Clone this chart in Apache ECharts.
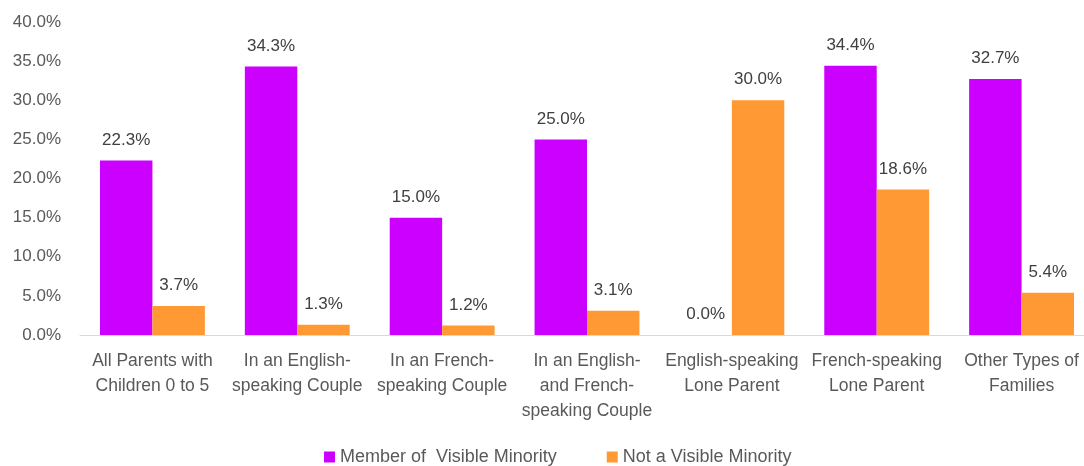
<!DOCTYPE html>
<html>
  <head>
    <meta charset="utf-8">
    <title>ECharts</title>
    <script src="https://cdn.jsdelivr.net/npm/echarts@6/dist/echarts.min.js"></script>
  </head>
  <body style="margin:0;overflow:hidden;">
    <!-- plot area runs a little past the right edge, as in the original picture -->
    <div id="main" style="width:1094px;height:466px;"></div>
    <script type="text/javascript">
      var categories = [
        'All Parents with\nChildren 0 to 5',
        'In an English-\nspeaking Couple',
        'In an French-\nspeaking Couple',
        'In an English-\nand French-\nspeaking Couple',
        'English-speaking\nLone Parent',
        'French-speaking\nLone Parent',
        'Other Types of\nFamilies'
      ];
      var visibleMinority = [22.3, 34.3, 15.0, 25.0, 0.0, 34.4, 32.7];
      var notVisibleMinority = [3.7, 1.3, 1.2, 3.1, 30.0, 18.6, 5.4];
      var seriesNames = ['Member of  Visible Minority', 'Not a Visible Minority'];

      var font = 'Liberation Sans';
      var myChart = echarts.init(document.getElementById('main'));

      var valueLabel = {
        show: true,
        position: 'top',
        distance: 12,
        color: '#404040',
        fontFamily: font,
        fontSize: 17,
        formatter: function(p) { return p.value.toFixed(1) + '%'; }
      };

      myChart.setOption({
        animation: false,
        color: ['#cc00ff', '#ff9933'],
        grid: {
          left: 80,
          right: 0,
          top: 22,
          bottom: 131
        },
        legend: {
          left: 319,
          top: 443,
          itemWidth: 11,
          itemHeight: 11,
          itemGap: 50,
          icon: 'rect',
          textStyle: {
            color: '#595959',
            fontFamily: font,
            fontSize: 18
          },
          data: seriesNames
        },
        xAxis: {
          type: 'category',
          data: categories,
          axisLine: { lineStyle: { color: '#d9d9d9', width: 1 } },
          axisTick: { show: false },
          axisLabel: {
            interval: 0,
            margin: 14,
            color: '#595959',
            fontFamily: font,
            fontSize: 17.5,
            lineHeight: 25
          }
        },
        yAxis: {
          type: 'value',
          min: 0,
          max: 40,
          interval: 5,
          axisLine: { show: false },
          axisTick: { show: false },
          splitLine: { show: false },
          axisLabel: {
            margin: 19,
            color: '#595959',
            fontFamily: font,
            fontSize: 17,
            formatter: function(v) { return v.toFixed(1) + '%'; }
          }
        },
        series: [{
          name: seriesNames[0],
          type: 'bar',
          data: visibleMinority,
          barGap: '0%',
          barCategoryGap: '27.6%',
          label: valueLabel
        }, {
          name: seriesNames[1],
          type: 'bar',
          data: notVisibleMinority,
          barGap: '0%',
          barCategoryGap: '27.6%',
          label: valueLabel
        }]
      });
    </script>
  </body>
</html>
